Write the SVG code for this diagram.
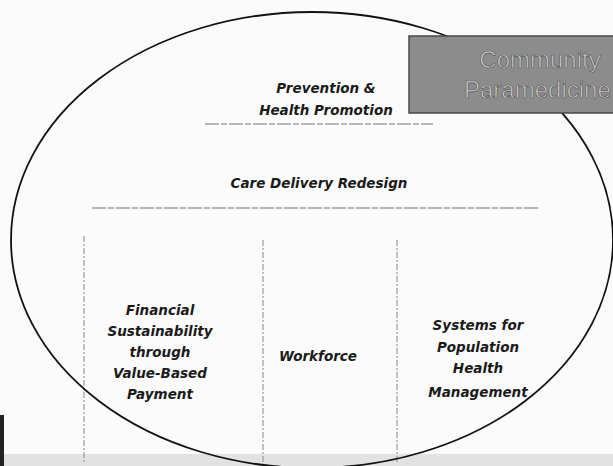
<svg xmlns="http://www.w3.org/2000/svg" width="613" height="466" viewBox="0 0 613 466">
<style>
.lbl{font-family:"DejaVu Sans",sans-serif;font-style:italic;font-weight:bold;font-size:13.5px;fill:#1a1a1a;text-anchor:middle}
.faint{stroke:#a0a0a0;stroke-width:1.6;stroke-dasharray:14 2 6 2;fill:none}
.vline{stroke:#9a9a9a;stroke-width:1.2;stroke-dasharray:6 2 2 2;fill:none}
.comm{font-family:"Liberation Sans",sans-serif;font-size:24px;fill:#cdcdcd;stroke:#5a5a5a;stroke-width:0.7}
</style>
<rect width="613" height="466" fill="#fbfbfb"/>
<rect x="0" y="454" width="613" height="12" fill="#e2e2e2"/>
<rect x="0" y="415" width="4" height="51" fill="#222"/>
<g id="connectors">
<line class="faint" x1="205" y1="124" x2="433" y2="124"/>
<line class="faint" x1="92" y1="208" x2="538" y2="208"/>
<line class="vline" x1="84" y1="236" x2="84" y2="462"/>
<line class="vline" x1="263" y1="240" x2="263" y2="462"/>
<line class="vline" x1="397" y1="240" x2="397" y2="462"/>
</g>
<g id="ellipse">
<ellipse cx="312" cy="240" rx="301" ry="228" fill="none" stroke="#111" stroke-width="1.8"/>
</g>
<g id="community-paramedicine">
<rect x="409" y="36" width="210" height="77" fill="#8c8c8c" stroke="#4a4a4a" stroke-width="1.5"/>
<text class="comm" x="540" y="68" text-anchor="middle">Community</text>
<text class="comm" x="464" y="98">Paramedicine</text>
</g>
<g id="prevention">
<text class="lbl" x="326" y="93" font-size="14.5">Prevention &amp;</text>
<text class="lbl" x="326" y="115" font-size="14.5">Health Promotion</text>
</g>
<g id="care-delivery">
<text class="lbl" x="319" y="188" font-size="12.5">Care Delivery Redesign</text>
</g>
<g id="financial">
<text class="lbl" x="160" y="315">Financial</text>
<text class="lbl" x="160" y="336">Sustainability</text>
<text class="lbl" x="160" y="357">through</text>
<text class="lbl" x="160" y="378">Value-Based</text>
<text class="lbl" x="160" y="399">Payment</text>
</g>
<g id="workforce">
<text class="lbl" x="318" y="361">Workforce</text>
</g>
<g id="systems">
<text class="lbl" x="478" y="330">Systems for</text>
<text class="lbl" x="478" y="352">Population</text>
<text class="lbl" x="478" y="373">Health</text>
<text class="lbl" x="478" y="397">Management</text>
</g>
</svg>
